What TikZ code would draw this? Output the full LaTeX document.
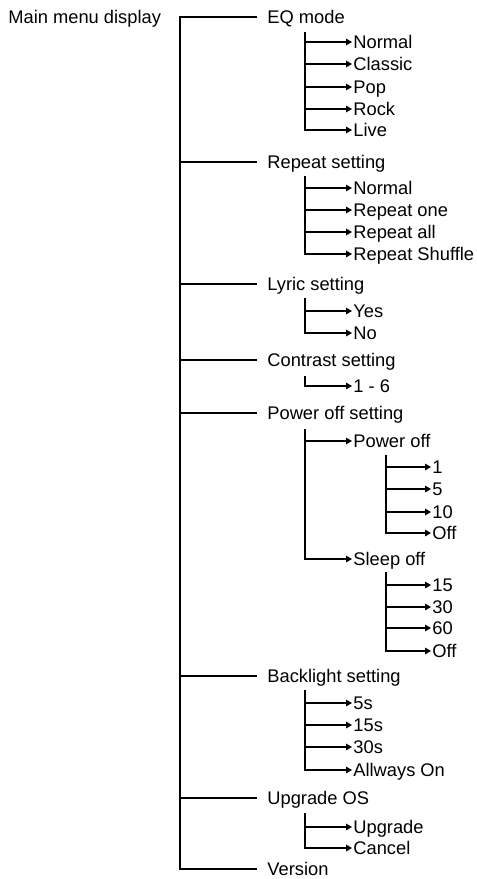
\documentclass[tikz,border=0pt]{standalone}
\usepackage{fontspec}
\setmainfont{Liberation Sans}
\usetikzlibrary{arrows.meta}

\tikzset{
  menu/.style={anchor=west, inner xsep=5pt, inner ysep=0pt, text height=6.5pt, text depth=0pt,
    font=\fontsize{9.15}{10}\selectfont},
  leaf/.style={menu, inner xsep=0.5pt},
  link/.style={line width=0.6pt},
  arr/.style={link, -{Triangle[length=3pt,width=3.3pt]}}
}

\begin{document}
\begin{tikzpicture}[x=0.5pt,y=-0.5pt]
  \useasboundingbox (0,0) rectangle (477,879);
  \node[leaf] (main) at (7,17) {Main menu display};
  % top level
  \node[menu] (eq) at (257,17) {EQ mode};
  \node[menu] (rep) at (257,162) {Repeat setting};
  \node[menu] (lyr) at (257,284) {Lyric setting};
  \node[menu] (con) at (257,360) {Contrast setting};
  \node[menu] (pow) at (257,413) {Power off setting};
  \node[menu] (bl) at (257,676) {Backlight setting};
  \node[menu] (up) at (257,798) {Upgrade OS};
  \node[menu] (ver) at (257,869) {Version};
  % second level
  \node[leaf] (eqnormal) at (352,42) {Normal};
  \node[leaf] (eqclassic) at (352,64) {Classic};
  \node[leaf] (eqpop) at (352,87) {Pop};
  \node[leaf] (eqrock) at (352,109) {Rock};
  \node[leaf] (eqlive) at (352,130) {Live};
  \node[leaf] (repnormal) at (352,188) {Normal};
  \node[leaf] (repone) at (352,210) {Repeat one};
  \node[leaf] (repall) at (352,232) {Repeat all};
  \node[leaf] (repshuf) at (352,254) {Repeat Shuffle};
  \node[leaf] (lyryes) at (352,311) {Yes};
  \node[leaf] (lyrno) at (352,333) {No};
  \node[leaf] (conval) at (352,386) {1 - 6};
  \node[leaf] (powoff) at (352,441) {Power off};
  \node[leaf] (sleep) at (352,559) {Sleep off};
  \node[leaf] (blfive) at (352,703) {5s};
  \node[leaf] (blfifteen) at (352,725) {15s};
  \node[leaf] (blthirty) at (352,747) {30s};
  \node[leaf] (blon) at (352,770) {Allways On};
  \node[leaf] (upgo) at (352,827) {Upgrade};
  \node[leaf] (upcancel) at (352,848) {Cancel};
  % third level
  \node[leaf] (powone) at (431,467) {1};
  \node[leaf] (powfive) at (431,489) {5};
  \node[leaf] (powten) at (431,512) {10};
  \node[leaf] (powoffoff) at (431,533) {Off};
  \node[leaf] (slfifteen) at (431,585) {15};
  \node[leaf] (slthirty) at (431,607) {30};
  \node[leaf] (slsixty) at (431,628) {60};
  \node[leaf] (sloff) at (431,651) {Off};

  % trunk
  \coordinate (trunk) at (180,0);
  \draw[link] (eq.west) -| (trunk |- ver.west) -- (ver.west);
  \draw[link] (trunk |- rep.west) -- (rep.west);
  \draw[link] (trunk |- lyr.west) -- (lyr.west);
  \draw[link] (trunk |- con.west) -- (con.west);
  \draw[link] (trunk |- pow.west) -- (pow.west);
  \draw[link] (trunk |- bl.west) -- (bl.west);
  \draw[link] (trunk |- up.west) -- (up.west);

  % EQ mode
  \coordinate (eqbar) at (305,32);
  \draw[arr] (eqbar) |- (eqlive.west);
  \draw[arr] (eqbar |- eqnormal.west) -- (eqnormal.west);
  \draw[arr] (eqbar |- eqclassic.west) -- (eqclassic.west);
  \draw[arr] (eqbar |- eqpop.west) -- (eqpop.west);
  \draw[arr] (eqbar |- eqrock.west) -- (eqrock.west);
  % Repeat setting
  \coordinate (repbar) at (305,176);
  \draw[arr] (repbar) |- (repshuf.west);
  \draw[arr] (repbar |- repnormal.west) -- (repnormal.west);
  \draw[arr] (repbar |- repone.west) -- (repone.west);
  \draw[arr] (repbar |- repall.west) -- (repall.west);
  % Lyric setting
  \coordinate (lyrbar) at (305,298);
  \draw[arr] (lyrbar) |- (lyrno.west);
  \draw[arr] (lyrbar |- lyryes.west) -- (lyryes.west);
  % Contrast setting
  \coordinate (conbar) at (305,376);
  \draw[arr] (conbar) |- (conval.west);
  % Power off setting
  \coordinate (powbar) at (305,429);
  \draw[arr] (powbar) |- (sleep.west);
  \draw[arr] (powbar |- powoff.west) -- (powoff.west);
  \coordinate (offbar) at (386,455);
  \draw[arr] (offbar) |- (powoffoff.west);
  \draw[arr] (offbar |- powone.west) -- (powone.west);
  \draw[arr] (offbar |- powfive.west) -- (powfive.west);
  \draw[arr] (offbar |- powten.west) -- (powten.west);
  \coordinate (slbar) at (386,572);
  \draw[arr] (slbar) |- (sloff.west);
  \draw[arr] (slbar |- slfifteen.west) -- (slfifteen.west);
  \draw[arr] (slbar |- slthirty.west) -- (slthirty.west);
  \draw[arr] (slbar |- slsixty.west) -- (slsixty.west);
  % Backlight setting
  \coordinate (blbar) at (305,690);
  \draw[arr] (blbar) |- (blon.west);
  \draw[arr] (blbar |- blfive.west) -- (blfive.west);
  \draw[arr] (blbar |- blfifteen.west) -- (blfifteen.west);
  \draw[arr] (blbar |- blthirty.west) -- (blthirty.west);
  % Upgrade OS
  \coordinate (upbar) at (305,813);
  \draw[arr] (upbar) |- (upcancel.west);
  \draw[arr] (upbar |- upgo.west) -- (upgo.west);
\end{tikzpicture}
\end{document}
